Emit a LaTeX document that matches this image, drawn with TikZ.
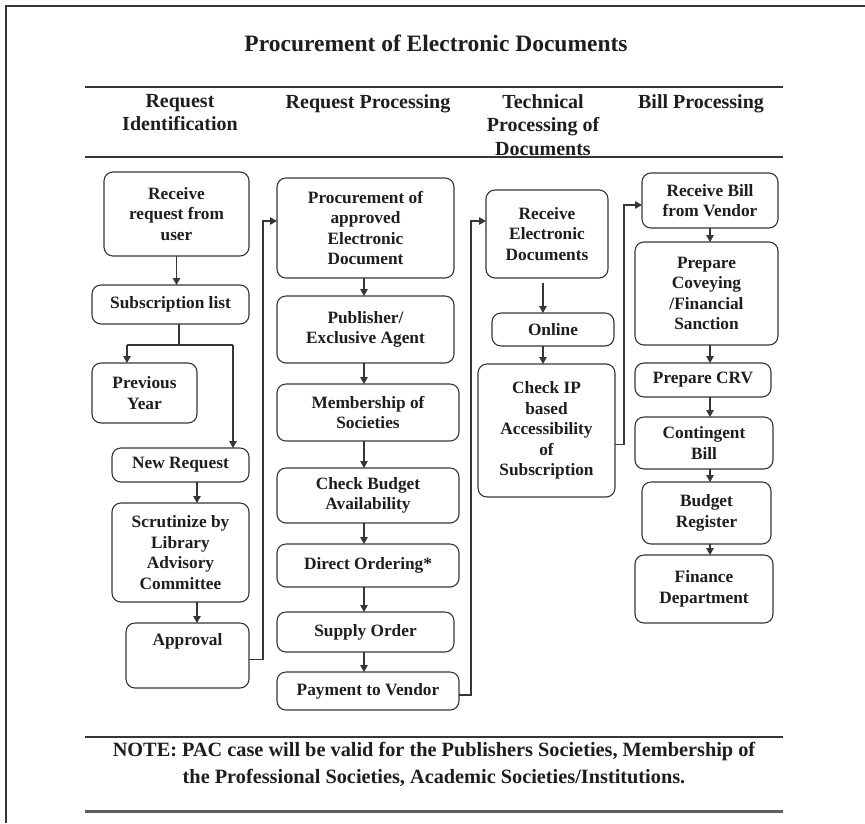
\documentclass[tikz,border=0pt]{standalone}
\usepackage{fontspec}
\setmainfont{Liberation Serif}
\usetikzlibrary{arrows.meta,calc}
\definecolor{ink}{HTML}{1E1E1E}
\definecolor{rulegray}{HTML}{363636}

% \flowbox{name}{left}{top}{right}{bottom}{text}  (coordinates in pt, y downwards)
\newcommand\flowbox[6]{%
  \node[stagebox, minimum width={#4-#2}, minimum height={#5-#3}]
    (#1) at ({(#2+#4)/2},{(#3+#5)/2}) {#6};}

\begin{document}
\begin{tikzpicture}[x=1pt,y=-1pt,
  stagebox/.style={draw=rulegray, line width=1.1pt, rounded corners=9pt,
    inner sep=2pt, outer sep=0pt, align=center, text=ink,
    font=\bfseries\fontsize{17.3}{20.5}\selectfont},
  flow/.style={draw=rulegray, line width=1.1pt, -{Triangle[length=7pt,width=7.5pt]}},
  link/.style={draw=rulegray, line width=1.1pt},
  hdr/.style={font=\bfseries\fontsize{20}{23.5}\selectfont, align=center,
    text=ink, inner sep=0pt, anchor=north},
  sep/.style={draw=rulegray, line width=1.6pt}]

\useasboundingbox (0,0) rectangle (865,823);
\fill[white] (0,0) rectangle (865,823);
\draw[rulegray, line width=1.5pt] (6,823) -- (6,6) -- (865,6);

% title and column headings
\node[font=\bfseries\fontsize{23.5}{27}\selectfont, text=ink] (title) at (436,43)
  {Procurement of Electronic Documents};
\draw[sep] (85,87) -- (783,87);
\node[hdr] (h1) at (180,94) {Request\\Identification};
\node[hdr] (h2) at (368,94) {Request Processing};
\node[hdr] (h3) at (543,94) {Technical\\Processing of\\Documents};
\node[hdr] (h4) at (701,94) {Bill Processing};
\draw[sep] (85,157) -- (783,157);

% column 1: request identification
\flowbox{recv}{104}{172}{249}{256}{Receive\\request from\\user}
\flowbox{subs}{92}{285}{249}{324}{Subscription list}
\flowbox{prev}{92}{363}{197}{423}{Previous\\Year}
\flowbox{newreq}{112}{448}{249}{482}{New Request}
\flowbox{scrut}{112}{503}{249}{602}{Scrutinize by\\Library\\Advisory\\Committee}
\flowbox{appr}{126}{623}{249}{688}{}
\node[text=ink, font=\bfseries\fontsize{17.3}{20.5}\selectfont, anchor=north, inner sep=0pt]
  (apprtxt) at ($(appr.north)+(0,10)$) {Approval};

% column 2: request processing
\flowbox{proc}{277}{178}{454}{278}{Procurement of\\approved\\Electronic\\Document}
\flowbox{publ}{277}{296}{454}{363}{Publisher/\\Exclusive Agent}
\flowbox{memb}{277}{384}{459}{441}{Membership of\\Societies}
\flowbox{budg}{277}{468}{459}{523}{Check Budget\\Availability}
\flowbox{dord}{277}{544}{459}{587}{Direct Ordering*}
\flowbox{supp}{277}{612}{454}{652}{Supply Order}
\flowbox{pay}{277}{672}{459}{710}{Payment to Vendor}

% column 3: technical processing
\flowbox{rdoc}{486}{190}{608}{278}{Receive\\Electronic\\Documents}
\flowbox{onl}{492}{313}{614}{346}{Online}
\flowbox{chk}{478}{364}{615}{497}{Check IP\\based\\Accessibility\\of\\Subscription}

% column 4: bill processing
\flowbox{rbill}{642}{173}{778}{228}{Receive Bill\\from Vendor}
\flowbox{sanc}{635}{242}{778}{345}{Prepare\\Coveying\\/Financial\\Sanction}
\flowbox{crv}{635}{363}{771}{397}{Prepare CRV}
\flowbox{cont}{635}{417}{773}{469}{Contingent\\Bill}
\flowbox{breg}{642}{482}{771}{544}{Budget\\Register}
\flowbox{fin}{635}{555}{773}{623}{Finance\\Department}

% connectors in column 1
\draw[flow] (recv.south) -- (subs.north -| recv.south);
\coordinate (splitC) at (179,345);
\coordinate (splitL) at (127,345);
\coordinate (splitR) at (233,345);
\draw[link] (subs.south -| splitC) -- (splitC);
\draw[link] (splitL) -- (splitR);
\draw[flow] (splitL) -- (prev.north -| splitL);
\draw[flow] (splitR) -- (newreq.north -| splitR);
\draw[flow] (newreq.south -| 197,0) -- (scrut.north -| 197,0);
\draw[flow] (scrut.south -| 197,0) -- (appr.north -| 197,0);

% connectors in column 2
\draw[flow] (proc.south -| 364,0) -- (publ.north -| 364,0);
\draw[flow] (publ.south -| 364,0) -- (memb.north -| 364,0);
\draw[flow] (memb.south -| 364,0) -- (budg.north -| 364,0);
\draw[flow] (budg.south -| 364,0) -- (dord.north -| 364,0);
\draw[flow] (dord.south -| 364,0) -- (supp.north -| 364,0);
\draw[flow] (supp.south -| 364,0) -- (pay.north -| 364,0);

% connectors in column 3
\draw[flow] ($(rdoc.south -| 543,0)+(0,5)$) -- (onl.north -| 543,0);
\draw[flow] (onl.south -| 543,0) -- (chk.north -| 543,0);

% connectors in column 4
\draw[flow] (rbill.south -| 710,0) -- (sanc.north -| 710,0);
\draw[flow] (sanc.south -| 710,0) -- (crv.north -| 710,0);
\draw[flow] (crv.south -| 710,0) -- (cont.north -| 710,0);
\draw[flow] (cont.south -| 710,0) -- (breg.north -| 710,0);
\draw[flow] (breg.south -| 710,0) -- (fin.north -| 710,0);

% hand-over between columns
\coordinate (busA) at (263,221);
\coordinate (busB) at (471,221);
\coordinate (busC) at (624,205);
\draw[flow] ($(appr.east)+(0,4)$) -| (busA) -- (proc.west |- busA);
\draw[flow] ($(pay.east)+(0,4)$) -| (busB) -- (rdoc.west |- busB);
\draw[flow] ($(chk.east)+(0,14)$) -| (busC) -- (rbill.west |- busC);

% note
\draw[sep] (85,737) -- (783,737);
\node[font=\bfseries\fontsize{20.3}{27}\selectfont, align=center, text=ink] (note) at (434,764)
  {NOTE: PAC case will be valid for the Publishers Societies, Membership of\\
   the Professional Societies, Academic Societies/Institutions.};
\draw[draw=rulegray!80, line width=3pt] (85,811) -- (783,811);
\end{tikzpicture}
\end{document}
